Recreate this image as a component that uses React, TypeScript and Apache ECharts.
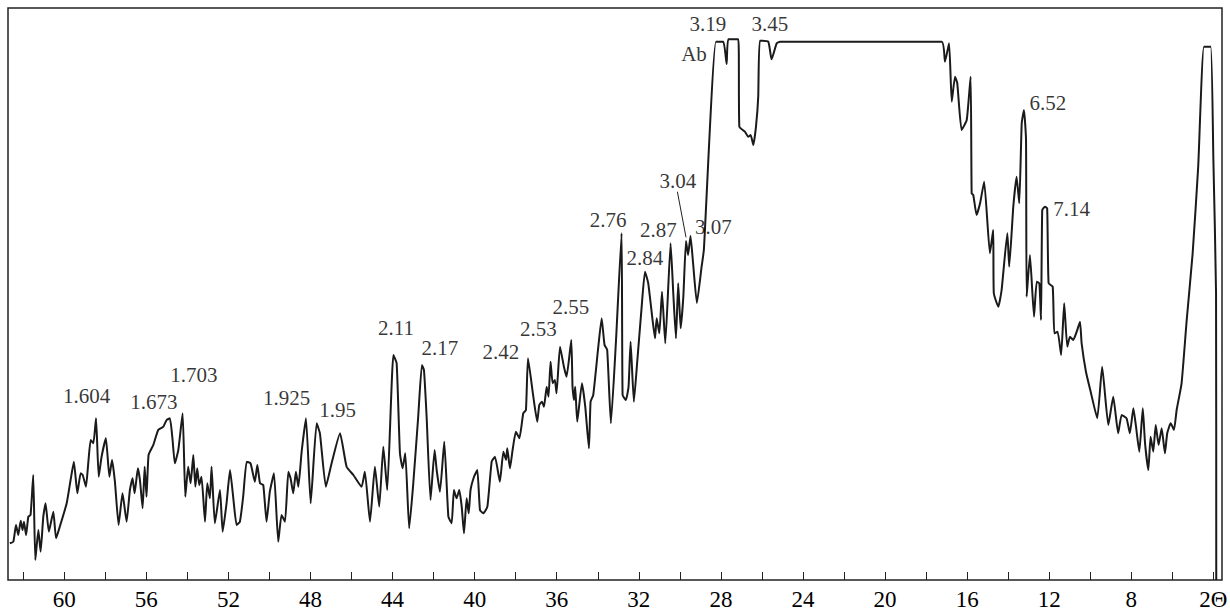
import React, { useEffect, useRef } from "react";
import * as echarts from "echarts";

// 2θ (degrees) and intensity (arbitrary units)
const twoTheta = [
  62.65, 62.48, 62.35, 62.24, 62.12, 62.03, 61.96, 61.86, 61.75, 61.64, 61.51, 61.41, 61.26, 61.15, 61.02, 60.91,
  60.75, 60.53, 60.4, 60.24, 59.88, 59.69, 59.53, 59.36, 59.2, 59.1, 58.94, 58.83, 58.71, 58.58, 58.45, 58.32,
  58.18, 57.97, 57.8, 57.67, 57.53, 57.35, 57.16, 56.96, 56.8, 56.67, 56.57, 56.41, 56.31, 56.18, 56.08, 55.99,
  55.89, 55.66, 55.42, 55.17, 55.01, 54.85, 54.72, 54.61, 54.44, 54.23, 54.1, 53.96, 53.84, 53.71, 53.61, 53.52,
  53.42, 53.31, 53.14, 53.03, 52.9, 52.82, 52.66, 52.41, 52.28, 52.09, 51.92, 51.76, 51.6, 51.44, 51.28, 51.11,
  50.92, 50.71, 50.59, 50.46, 50.3, 50.14, 49.98, 49.78, 49.57, 49.41, 49.24, 49.08, 48.97, 48.84, 48.71, 48.59,
  48.43, 48.22, 47.99, 47.7, 47.54, 47.25, 46.97, 46.56, 46.24, 45.91, 45.51, 45.35, 45.1, 44.86, 44.65, 44.45,
  44.26, 43.96, 43.8, 43.64, 43.51, 43.38, 43.19, 42.99, 42.75, 42.57, 42.47, 42.34, 42.15, 41.95, 41.85, 41.69,
  41.48, 41.28, 41.12, 41.01, 40.88, 40.75, 40.63, 40.52, 40.39, 40.29, 40.2, 40.03, 39.87, 39.74, 39.58, 39.38,
  39.17, 39.01, 38.77, 38.6, 38.47, 38.41, 38.28, 38.15, 37.99, 37.82, 37.63, 37.5, 37.4, 37.14, 36.95, 36.85,
  36.72, 36.62, 36.49, 36.4, 36.3, 36.2, 36.09, 36.01, 35.84, 35.65, 35.52, 35.29, 35.23, 35.16, 35.1, 35.0,
  34.77, 34.61, 34.43, 34.35, 34.22, 33.99, 33.81, 33.67, 33.54, 33.36, 33.11, 32.84, 32.79, 32.63, 32.5, 32.4,
  32.24, 32.07, 31.86, 31.7, 31.54, 31.33, 31.21, 31.13, 31.0, 30.87, 30.71, 30.45, 30.32, 30.19, 30.08, 29.96,
  29.83, 29.7, 29.6, 29.48, 29.36, 29.17, 28.94, 28.83, 28.24, 27.88, 27.72, 27.64, 27.15, 27.1, 26.83, 26.67,
  26.55, 26.42, 26.29, 26.18, 26.1, 25.69, 25.53, 25.28, 25.12, 17.24, 17.08, 16.88, 16.75, 16.59, 16.48, 16.27,
  16.02, 15.83, 15.78, 15.7, 15.54, 15.37, 15.17, 14.89, 14.73, 14.7, 14.48, 14.32, 14.04, 13.95, 13.75, 13.59,
  13.46, 13.34, 13.23, 13.13, 13.1, 12.94, 12.74, 12.61, 12.48, 12.4, 12.34, 12.21, 12.1, 12.03, 11.83, 11.75,
  11.59, 11.42, 11.27, 11.12, 10.99, 10.83, 10.66, 10.5, 10.42, 10.21, 9.98, 9.66, 9.42, 9.12, 8.88, 8.64,
  8.47, 8.23, 8.07, 7.9, 7.77, 7.61, 7.44, 7.33, 7.17, 7.06, 6.93, 6.81, 6.67, 6.52, 6.36, 6.25,
  6.08, 5.92, 5.79, 5.55, 5.3, 5.01, 4.74, 4.46, 4.13, 4.0, 3.87, 3.86,
];
const intensity = [
  36.7, 38.3, 55, 45, 59.3, 50, 58.3, 45, 63.3, 65, 105, 20, 50, 28.3, 63.3, 76.7,
  48.3, 68.3, 41.7, 51.7, 76.7, 100, 118.3, 86.7, 106.7, 105, 93.3, 116.7, 140, 136.7, 161.7, 103.3,
  123.3, 141.7, 103.3, 120, 98.3, 55, 86.7, 58.3, 90, 101.7, 86.7, 111.7, 100, 71.7, 113.3, 83.3,
  125, 135, 150, 153.3, 160, 161.7, 140, 116.7, 130, 166.7, 83.3, 113.3, 96.7, 125, 93.3, 111.7,
  95, 103.3, 58.3, 96.7, 81.7, 113.3, 56.7, 90, 48.3, 76.7, 110, 81.7, 55, 58.3, 83.3, 118.3,
  116.7, 98.3, 115, 96.7, 95, 58.3, 88.3, 106.7, 38.3, 65, 58.3, 108.3, 101.7, 86.7, 108.3, 93.3,
  128.3, 161.7, 76.7, 156.7, 146.7, 93.3, 116.7, 146.7, 113.3, 105, 93.3, 108.3, 58.3, 113.3, 73.3, 133.3,
  90, 225, 216.7, 126.7, 111.7, 126.7, 51.7, 96.7, 163.3, 215, 210, 163.3, 80, 130, 110, 88.3,
  138.3, 63.3, 56.7, 90, 81.7, 90, 73.3, 46.7, 81.7, 66.7, 90, 103.3, 110, 70, 66.7, 73.3,
  118.3, 123.3, 98.3, 128.3, 120, 131.7, 111.7, 130, 148.3, 141.7, 166.7, 170, 221.7, 183.3, 158.3, 175,
  178.3, 173.3, 193.3, 183.3, 218.3, 196.7, 200, 186.7, 233.3, 213.3, 203.3, 240, 193.3, 180, 193.3, 158.3,
  196.7, 173.3, 131.7, 178.3, 185, 230, 261.7, 235, 230, 156.7, 240, 346.7, 185, 180, 193.3, 238.3,
  178.3, 220, 273.3, 308.3, 296.7, 260, 241.7, 261.7, 246.7, 288.3, 236.7, 336.7, 286.7, 241.7, 296.7, 251.7,
  283.3, 339, 325, 344, 318, 277, 313.3, 330, 538.3, 538.3, 516, 540.7, 540.7, 453.3, 448.3, 443.3,
  445, 435, 453.3, 483.3, 539.3, 538.3, 520.7, 536.7, 538.3, 538.3, 518.3, 536.7, 478.3, 503.3, 496.7, 450,
  460, 503.3, 386.7, 385, 365, 376.7, 398.3, 326.7, 350, 286.7, 273.3, 290, 346.7, 313.3, 373.3, 403.3,
  376.7, 456.7, 470, 440, 283.3, 325, 263.3, 298.3, 296.7, 260, 370, 373.3, 371.7, 296.7, 293.3, 246.7,
  248.3, 225, 276.7, 233.3, 243.3, 240, 248.3, 258.3, 236.7, 208.3, 188.3, 161.7, 213.3, 155, 183.3, 146.7,
  165, 161.7, 146.7, 171.7, 153.3, 128.3, 171.7, 136.7, 110, 143.3, 128.3, 155, 135, 151.7, 126.7, 146.7,
  156.7, 150, 170, 196.7, 260, 326.7, 413.3, 533.3, 533.3, 420, 286.7, 0,
];

// peak annotations (d-spacings) and their placement in data units
const peakLabels = ["1.604", "1.673", "1.703", "1.925", "1.95", "2.11", "2.17", "2.42", "2.53", "2.55", "2.76", "2.84", "2.87", "3.04", "3.07", "3.19", "Ab", "3.45", "6.52", "7.14"];
const labelTheta = [58.91, 55.63, 53.68, 49.16, 46.68, 43.83, 41.69, 38.72, 36.89, 35.31, 33.49, 31.7, 31.05, 30.09, 28.37, 28.63, 29.31, 25.61, 12.06, 10.91];
const labelIntensity = [184, 178.5, 205, 182.5, 170.5, 252, 232, 228.5, 251.5, 273.5, 360, 322.5, 350, 399, 353.3, 556, 526, 556, 477.5, 371];

// leader line from "3.04" to its peak
const leaderTheta = [30.12, 29.7];
const leaderIntensity = [388.3, 342.7];

// axis ticks / labels
const tickValues = [4, 6, 8, 10, 12, 14, 16, 18, 20, 22, 24, 26, 28, 30, 32, 34, 36, 38, 40, 42, 44, 46, 48, 50, 52, 54, 56, 58, 60, 62];
const labelValues = [4, 8, 12, 16, 20, 24, 28, 32, 36, 40, 44, 48, 52, 56, 60];
const axisTitle = "2Θ";

export default function App() {
  const ref = useRef<HTMLDivElement>(null);

  useEffect(() => {
    if (!ref.current) return;
    const chart = echarts.init(ref.current, null, { renderer: "svg" });
    const serif = "'Liberation Serif', 'DejaVu Serif', serif";
    const lineData = twoTheta.map((t, i) => [t, intensity[i]]);
    const annData = peakLabels.map((s, i) => [labelTheta[i], labelIntensity[i], s]);
    const leaderData = leaderTheta.map((t, i) => [t, leaderIntensity[i]]);

    chart.setOption({
      animation: false,
      backgroundColor: "#ffffff",
      grid: {
        left: 8,
        right: 8,
        top: 8,
        bottom: 31,
        containLabel: false,
        outerBoundsMode: "none",
        show: true,
        borderColor: "#222",
        borderWidth: 1.5,
        backgroundColor: "transparent",
      },
      xAxis: {
        type: "value",
        inverse: true,
        min: 3.58,
        max: 62.74,
        axisLine: { show: false },
        splitLine: { show: false },
        axisTick: {
          show: true,
          inside: true,
          length: 8,
          customValues: tickValues,
          lineStyle: { color: "#222", width: 1 },
        },
        axisLabel: {
          show: true,
          customValues: labelValues,
          margin: 8,
          fontFamily: serif,
          fontSize: 23,
          color: "#000",
          hideOverlap: false,
          showMinLabel: true,
          showMaxLabel: true,
          formatter: (v: number) => (v === 4 ? axisTitle : String(v)),
        },
      },
      yAxis: {
        type: "value",
        min: 0,
        max: 572,
        show: false,
        splitLine: { show: false },
      },
      series: [
        {
          type: "line",
          data: lineData,
          showSymbol: false,
          symbol: "none",
          smooth: 0.15,
          lineStyle: { color: "#1a1a1a", width: 2 },
          z: 3,
        },
        {
          type: "line",
          data: leaderData,
          showSymbol: false,
          symbol: "none",
          lineStyle: { color: "#222", width: 1 },
          z: 3,
        },
        {
          type: "scatter",
          data: annData,
          symbolSize: 0,
          silent: true,
          itemStyle: { color: "#000" },
          label: {
            show: true,
            position: "inside",
            formatter: (p: any) => p.value[2],
            fontFamily: serif,
            fontSize: 21,
            color: "#000",
            textBorderWidth: 0,
          },
          z: 4,
        },
      ],
    });

    return () => chart.dispose();
  }, []);

  return (
    <div
      ref={ref}
      style={{ position: "fixed", left: 0, top: 0, width: 1230, height: 611, background: "#fff" }}
    />
  );
}
